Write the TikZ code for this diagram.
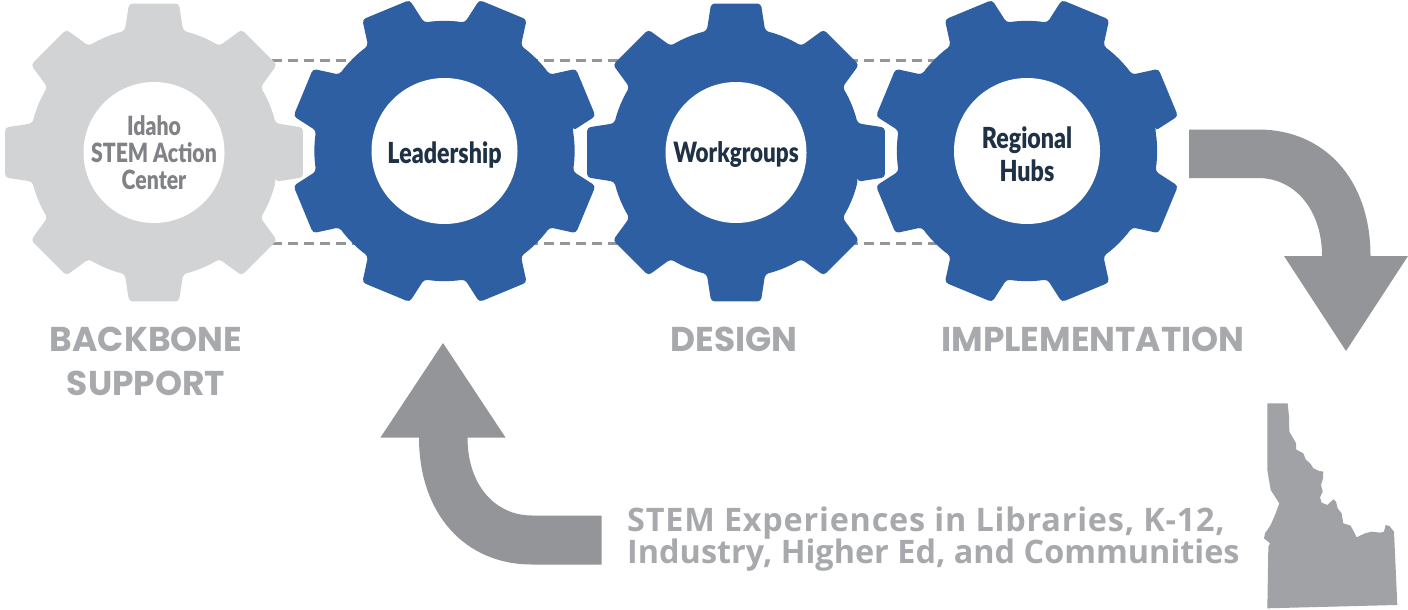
\documentclass[tikz,border=0pt]{standalone}
\usepackage{fontspec}
\setmainfont{Poppins}
\newfontfamily\condf[FakeStretch=0.8,BoldFont={Lato Black}]{Lato}
\newfontfamily\stemf{Open Sans}
\newfontfamily\stemfa[LetterSpace=2.4]{Open Sans}
\definecolor{gearblue}{HTML}{2E5FA3}
\definecolor{geargray}{HTML}{D1D3D4}
\definecolor{labelgray}{HTML}{A7A9AC}
\definecolor{arrowgray}{HTML}{939598}
\definecolor{stategray}{HTML}{A0A2A5}
\definecolor{inkdark}{HTML}{1E3145}
\definecolor{inkgray}{HTML}{808285}
\newcommand{\gearshape}[6]{% cx cy rot rbase rtip fill
  \fill[#6,rounded corners=3.5pt] ({#1+#4*cos(#3-13.5)},{#2+#4*sin(#3-13.5)})
  \foreach \i [evaluate=\i as \a using #3+\i*45] in {0,...,7} {
    -- ({#1+#5*cos(\a-9.5)},{#2+#5*sin(\a-9.5)})
    -- ({#1+#5*cos(\a+9.5)},{#2+#5*sin(\a+9.5)})
    -- ({#1+#4*cos(\a+13.5)},{#2+#4*sin(\a+13.5)})
    arc[start angle={\a+13.5},end angle={\a+31.5},radius=#4*1pt]
  } -- cycle;
}
\tikzset{
  hole/.style={circle,fill=white,inner sep=0pt},
  geartext/.style={align=center,inner sep=0pt,font=\condf\bfseries\fontsize{29}{33}\selectfont,text=inkdark},
  caption/.style={font=\bfseries\fontsize{34.4}{44}\selectfont,text=labelgray,align=center,inner sep=0pt},
  stemtext/.style={font=\stemf\bfseries\fontsize{32.4}{32}\selectfont,text=labelgray,align=left,inner sep=0pt,anchor=north west},
  dashline/.style={draw=arrowgray,line width=2.4pt,dash pattern=on 10pt off 6pt},
  bigarrow/.style={fill=arrowgray}
}
\begin{document}
\begin{tikzpicture}[x=1pt,y=1pt]
\useasboundingbox (0,-610) rectangle (1408,0);
% dashed links
\coordinate (topL) at (272,-60.5);
\coordinate (topR) at (1000,-60.5);
\coordinate (botL) at (272,-243.5);
\coordinate (botR) at (1000,-243.5);
\draw[dashline] (topL) -- (topR);
\draw[dashline] (botL) -- (botR);
% gears
\gearshape{154}{-152.5}{0}{125}{151}{geargray}
\gearshape{444.5}{-151}{22.5}{130}{155}{gearblue}
\gearshape{736}{-152.5}{0}{125}{151}{gearblue}
\gearshape{1027}{-151}{22.5}{130}{155}{gearblue}
\node[hole,minimum size=141pt] (holeA) at (154,-152.5) {};
\node[hole,minimum size=146pt] (holeB) at (444.5,-151) {};
\node[hole,minimum size=141pt] (holeC) at (736,-152.5) {};
\node[hole,minimum size=146pt] (holeD) at (1027,-151) {};
\node[geartext,text=inkgray,font=\condf\bfseries\fontsize{26.5}{27}\selectfont] (idaho) at (154,-153) {Idaho\\STEM Action\\Center};
\node[geartext] (lead) at (444.5,-155) {Leadership};
\node[geartext,font=\condf\bfseries\fontsize{28}{33}\selectfont] (work) at (736,-155) {Workgroups};
\node[geartext] (hubs) at (1027,-154) {Regional\\Hubs};
% captions
\node[caption] (backbone) at (146,-361) {BACKBONE\\SUPPORT};
\node[caption] (design) at (734,-339) {DESIGN};
\node[caption] (impl) at (1093,-339) {IMPLEMENTATION};
\node[stemtext] (stem) at (627,-507) {{\stemfa STEM Experiences in Libraries, K-12,}\\[-2pt]Industry, Higher Ed, and Communities};
% arrows
\fill[bigarrow] (1189,-129.5) -- (1258,-129.5)
  .. controls (1325,-129.5) and (1370.5,-180) .. (1370.5,-256)
  -- (1408,-256) -- (1346,-351) -- (1284,-256) -- (1322,-256)
  .. controls (1322,-210) and (1295,-178) .. (1258,-178) -- (1189,-178) -- cycle;
\fill[bigarrow] (601.5,-564.5) -- (532,-564.5)
  .. controls (465,-564.5) and (419,-514) .. (419,-437.5)
  -- (380.5,-437.5) -- (443,-343) -- (505.5,-437.5) -- (467.5,-437.5)
  .. controls (467.5,-485) and (495,-515.5) .. (532,-515.5) -- (601.5,-515.5) -- cycle;
% Idaho
\begin{scope}[shift={(1240,-390)},x=0.3333pt,y=-0.3333pt]
\fill[stategray] (82,40) -- (143,40) -- (147,80) -- (148,125) -- (160,145) -- (168,160) -- (168,178) -- (190,190) -- (197,208) -- (212,222) -- (220,235) -- (238,243) -- (250,245) -- (249,265) -- (243,285) -- (248,305) -- (240,322) -- (245,338) -- (262,345) -- (280,328) -- (288,335) -- (293,355) -- (305,370) -- (310,400) -- (332,407) -- (350,442) -- (375,430) -- (395,425) -- (420,428) -- (432,425) -- (437,405) -- (448,408) -- (462,425) -- (472,645) -- (82,655) -- (85,470) -- (90,460) -- (72,445) -- (75,430) -- (92,405) -- (105,375) -- (118,340) -- (92,300) -- (82,240) -- cycle;
\end{scope}
\end{tikzpicture}
\end{document}
